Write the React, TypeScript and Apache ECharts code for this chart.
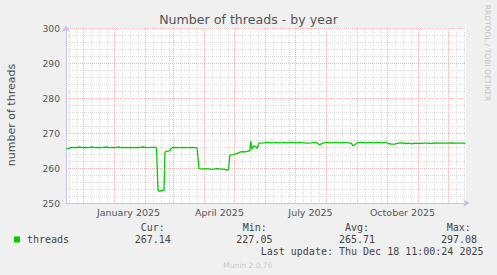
import React, { useEffect, useRef } from 'react';
import * as echarts from 'echarts';

// x = days since 1 Dec 2024
const days = [
  -17, -15, -13, -10, -7, -4, -1, 2, 5, 8, 11, 14, 17, 20, 23, 26, 29, 32, 35, 38,
  41, 44, 47, 50, 53, 56, 59, 62, 65, 68, 71, 73, 74.5, 76, 78, 80.5, 81.5, 84, 86.5,
  87.3, 88.8, 92, 96, 100, 104, 108, 111, 113.5, 115.5, 118, 122, 126, 130, 134, 138,
  141, 143, 145, 146.3, 150, 153, 155, 157, 160, 162, 165, 166.3, 167.2, 168.5, 170,
  172, 173.5, 175.5, 180, 184, 188, 192, 196, 200, 204, 208, 212, 216, 220, 224, 228,
  231, 234, 236, 240, 244, 248, 252, 256, 260, 264, 266.5, 268, 269.5, 274, 278, 282,
  286, 290, 294, 298, 302, 305, 308, 311, 315, 319, 323, 325, 328, 332, 336, 340, 344,
  348, 352, 356, 360, 364, 368, 372, 376, 380, 382,
];
const threads = [
  265.6, 265.5, 265.8, 265.9, 265.8, 266.0, 265.8, 265.9, 265.8, 266.0, 265.8, 265.9, 265.8, 265.9, 266.0, 265.8, 265.9, 265.8, 266.0, 265.8,
  265.9, 265.8, 265.9, 265.8, 265.9, 265.8, 266.0, 265.9, 265.8, 265.9, 265.9, 265.8, 253.6, 253.4, 253.5, 253.6, 264.6, 264.8, 264.9,
  265.4, 265.8, 265.9, 265.8, 265.9, 265.8, 265.9, 265.8, 265.8, 259.8, 259.7, 259.8, 259.7, 259.7, 259.8, 259.7,
  259.6, 259.4, 259.5, 263.7, 263.8, 264.1, 264.3, 264.6, 264.7, 264.6, 264.9, 264.8, 267.7, 265.3, 266.3,
  266.2, 265.6, 267.1, 267.2, 267.3, 267.2, 267.3, 267.2, 267.3, 267.2, 267.3, 267.2, 267.3, 267.2, 267.1, 267.2, 267.3,
  267.1, 266.6, 267.2, 267.3, 267.2, 267.3, 267.2, 267.3, 267.2, 267.2, 267.0, 266.3, 267.2, 267.3, 267.2, 267.3,
  267.2, 267.3, 267.2, 267.3, 267.0, 266.8, 266.8, 267.1, 267.2, 267.0, 267.1, 266.9, 267.1, 267.0, 267.1, 267.1, 267.0,
  267.2, 267.1, 267.1, 267.1, 267.2, 267.1, 267.1, 267.1, 267.1, 267.14,
];

const monthStarts = [-30, 0, 31, 62, 90, 121, 151, 182, 212, 243, 274, 304, 335, 365];
const minorOffsets = [8, 16, 24];
const labelDays = [45, 136, 227, 319];
const labelTexts = ['January 2025', 'April 2025', 'July 2025', 'October 2025'];

const statLabels = ['Cur:', 'Min:', 'Avg:', 'Max:'];
const statValues = ['267.14', '227.05', '265.71', '297.08'];

const X_MIN = -17.5;
const X_MAX = 382.5;

export default function App() {
  const ref = useRef<HTMLDivElement>(null);
  useEffect(() => {
    const chart = echarts.init(ref.current!, null, { renderer: 'svg' });
    const inRange = (d: number) => d >= X_MIN && d <= X_MAX;
    const majors = monthStarts.filter(inRange);
    const minors: number[] = [];
    monthStarts.forEach((m) => minorOffsets.forEach((o) => { if (inRange(m + o)) minors.push(m + o); }));

    const red = '#efb6b6';
    const gray = '#dcdcdc';
    const axisCol = '#c4c4ee';
    const textCol = '#555555';
    const mono = "'DejaVu Sans Mono', monospace";
    const sans = "'DejaVu Sans', sans-serif";
    const legendCol = '#444444';

    const statX = [[140.7, 134.7], [242.7, 236.3], [345, 339], [446.7, 441]];

    const graphic: any[] = [
      { type: 'text', x: 248.5, y: 19, style: { text: 'Number of threads - by year', fill: textCol, font: `12.6px ${sans}`, align: 'center', verticalAlign: 'middle' } },
      { type: 'text', x: 11, y: 115, rotation: Math.PI / 2, style: { text: 'number of threads', fill: '#4a4a4a', font: `11px ${sans}`, align: 'center', verticalAlign: 'middle' } },
      { type: 'text', x: 487.5, y: 53, rotation: -Math.PI / 2, style: { text: 'RRDTOOL / TOBI OETIKER', fill: '#c4c4c4', font: `7.5px ${sans}`, align: 'center', verticalAlign: 'middle' } },
      { type: 'rect', shape: { x: 14, y: 236.5, width: 6, height: 6 }, style: { fill: '#00cc00' } },
      { type: 'text', x: 27, y: 239.7, style: { text: 'threads', fill: legendCol, font: `10px ${mono}`, verticalAlign: 'middle' } },
      { type: 'text', x: 260.7, y: 251.5, style: { text: 'Last update: Thu Dec 18 11:00:24 2025', fill: legendCol, font: `10px ${mono}`, verticalAlign: 'middle' } },
      { type: 'text', x: 223.3, y: 265, style: { text: 'Munin 2.0.76', fill: '#cacaca', font: `7.5px ${sans}`, verticalAlign: 'middle' } },
    ];
    statLabels.forEach((l, i) => {
      graphic.push({ type: 'text', x: statX[i][0], y: 227.7, style: { text: l, fill: legendCol, font: `10px ${mono}`, verticalAlign: 'middle' } });
      graphic.push({ type: 'text', x: statX[i][1], y: 239.7, style: { text: statValues[i], fill: legendCol, font: `10px ${mono}`, verticalAlign: 'middle' } });
    });

    const option: any = {
      animation: false,
      backgroundColor: '#f0f0f0',
      grid: { left: 66, top: 28, width: 400, height: 175, show: true, backgroundColor: '#ffffff', borderWidth: 0 },
      xAxis: {
        type: 'value', min: X_MIN, max: X_MAX,
        splitLine: { show: false },
        axisTick: { show: false },
        axisLine: { show: true, onZero: false, lineStyle: { color: axisCol, width: 1 }, symbol: ['none', 'arrow'], symbolSize: [6, 7], symbolOffset: [0, 4] },
        axisLabel: {
          customValues: labelDays,
          formatter: (v: number) => { const i = labelDays.indexOf(v); return i >= 0 ? labelTexts[i] : ''; },
          color: textCol, fontSize: 9.5, fontFamily: sans, margin: 4,
        },
      },
      yAxis: {
        type: 'value', min: 250, max: 300, interval: 10,
        axisLine: { show: true, onZero: false, lineStyle: { color: axisCol, width: 1 }, symbol: ['none', 'arrow'], symbolSize: [6, 7], symbolOffset: [0, 3] },
        axisTick: { show: false },
        axisLabel: { color: textCol, fontSize: 9.2, fontFamily: sans, margin: 6 },
        splitLine: { show: true, lineStyle: { color: red, type: [1, 1], width: 1 } },
        minorTick: { show: false, splitNumber: 5 },
        minorSplitLine: { show: true, lineStyle: { color: gray, type: [1, 1], width: 1 } },
      },
      series: [
        {
          type: 'line',
          data: days.map((d, i) => [d, threads[i]]),
          showSymbol: false,
          symbol: 'none',
          z: 3,
          lineStyle: { color: '#00cc00', width: 1.3 },
          markLine: {
            silent: true,
            z: 1,
            symbol: ['none', 'none'],
            label: { show: false },
            emphasis: { disabled: true },
            data: [
              ...minors.map((d) => ({ xAxis: d, lineStyle: { color: gray, type: [1, 1], width: 1 } })),
              ...majors.map((d) => ({ xAxis: d, lineStyle: { color: red, type: [1, 1], width: 1 } })),
            ],
          },
        },
      ],
      graphic,
    };
    chart.setOption(option);
    return () => chart.dispose();
  }, []);
  return <div ref={ref} style={{ position: 'absolute', left: 0, top: 0, width: 497, height: 275 }} />;
}
